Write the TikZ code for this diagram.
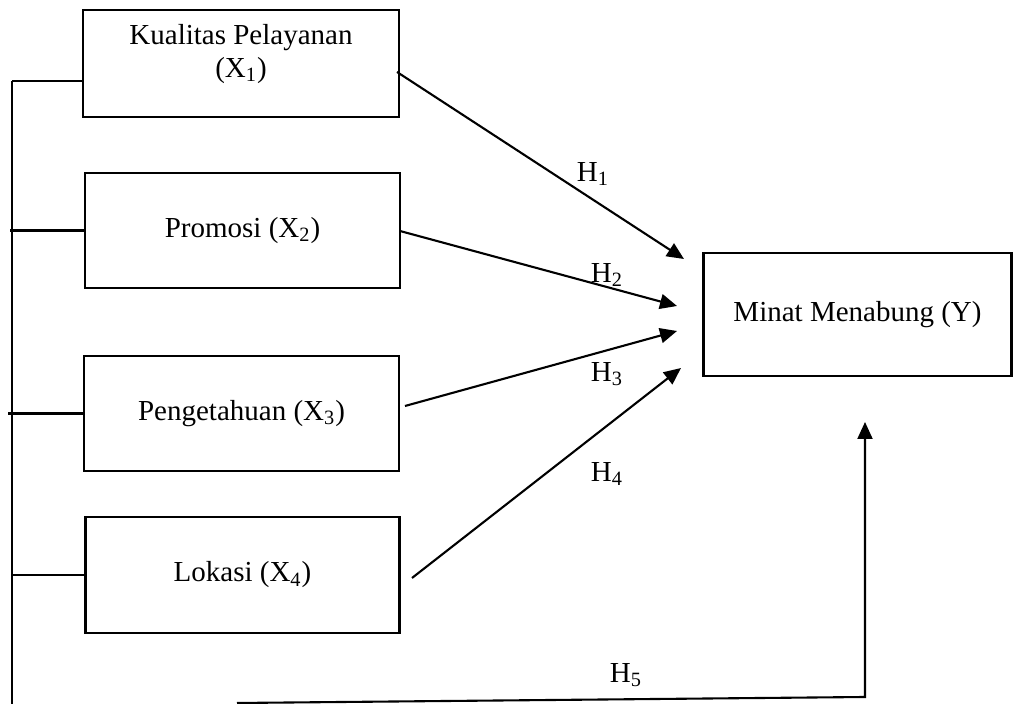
\documentclass[tikz,border=0pt]{standalone}
\usepackage{fontspec}
\setmainfont{Liberation Serif}
\usetikzlibrary{arrows.meta,calc}
\begin{document}
\begin{tikzpicture}[x=0.5pt,y=-0.5pt,
  every node/.style={font=\fontsize{14.5}{16.5}\selectfont},
  varbox/.style={draw, line width=1.1pt, inner sep=0pt, align=center},
  link/.style={line width=1.1pt},
  arr/.style={line width=1.05pt, -{Triangle[length=8.5pt,width=7.5pt]}},
  hlabel/.style={inner sep=0pt}]
\useasboundingbox (0,0) rectangle (1013,704);
% boxes
\node[varbox, minimum width=158pt, minimum height=53.5pt] (x1) at (241,63.5) {Kualitas Pelayanan\\(X\textsubscript{1})\\[-4pt]};
\node[varbox, minimum width=157.5pt, minimum height=57.5pt] (x2) at (242.5,230.5) {Promosi (X\textsubscript{2})};
\node[varbox, minimum width=157.5pt, minimum height=57.5pt] (x3) at (241.5,413.5) {Pengetahuan (X\textsubscript{3})};
\node[varbox, minimum width=157pt, minimum height=58pt] (x4) at (242.5,575) {Lokasi (X\textsubscript{4})};
\node[varbox, minimum width=154pt, minimum height=61.5pt] (y) at (857.5,314.5) {Minat Menabung (Y)};
% left bracket
\coordinate (ltop) at (12,81);
\coordinate (lbot) at (12,704);
\draw[link] (ltop) -- (lbot);
\draw[link] (ltop) -- (ltop -| x1.west);
\draw[link] ([xshift=-1pt]x2.west -| ltop) -- (x2.west);
\draw[link] ([xshift=-2pt]x3.west -| ltop) -- (x3.west);
\draw[link] (x4.west -| ltop) -- (x4.west);
% arrow end points
\coordinate (s1) at (397,72);   \coordinate (t1) at (684,259);
\coordinate (s2) at (400,231);  \coordinate (t2) at (677,306);
\coordinate (s3) at (405,406);  \coordinate (t3) at (677,331);
\coordinate (s4) at (412,578);  \coordinate (t4) at (681,368);
\coordinate (s5) at (237,703);  \coordinate (c5) at (865,697);  \coordinate (t5) at (865,422);
\draw[arr] (s1) -- (t1);
\draw[arr] (s2) -- (t2);
\draw[arr] (s3) -- (t3);
\draw[arr] (s4) -- (t4);
\draw[arr] (s5) -- (c5) -- (t5);
% labels
\node[hlabel] (h1) at (593,174) {H\textsubscript{1}};
\node[hlabel] (h2) at (607,275) {H\textsubscript{2}};
\node[hlabel] (h3) at (607,374) {H\textsubscript{3}};
\node[hlabel] (h4) at (607,474) {H\textsubscript{4}};
\node[hlabel] (h5) at (626,675) {H\textsubscript{5}};
\end{tikzpicture}
\end{document}
